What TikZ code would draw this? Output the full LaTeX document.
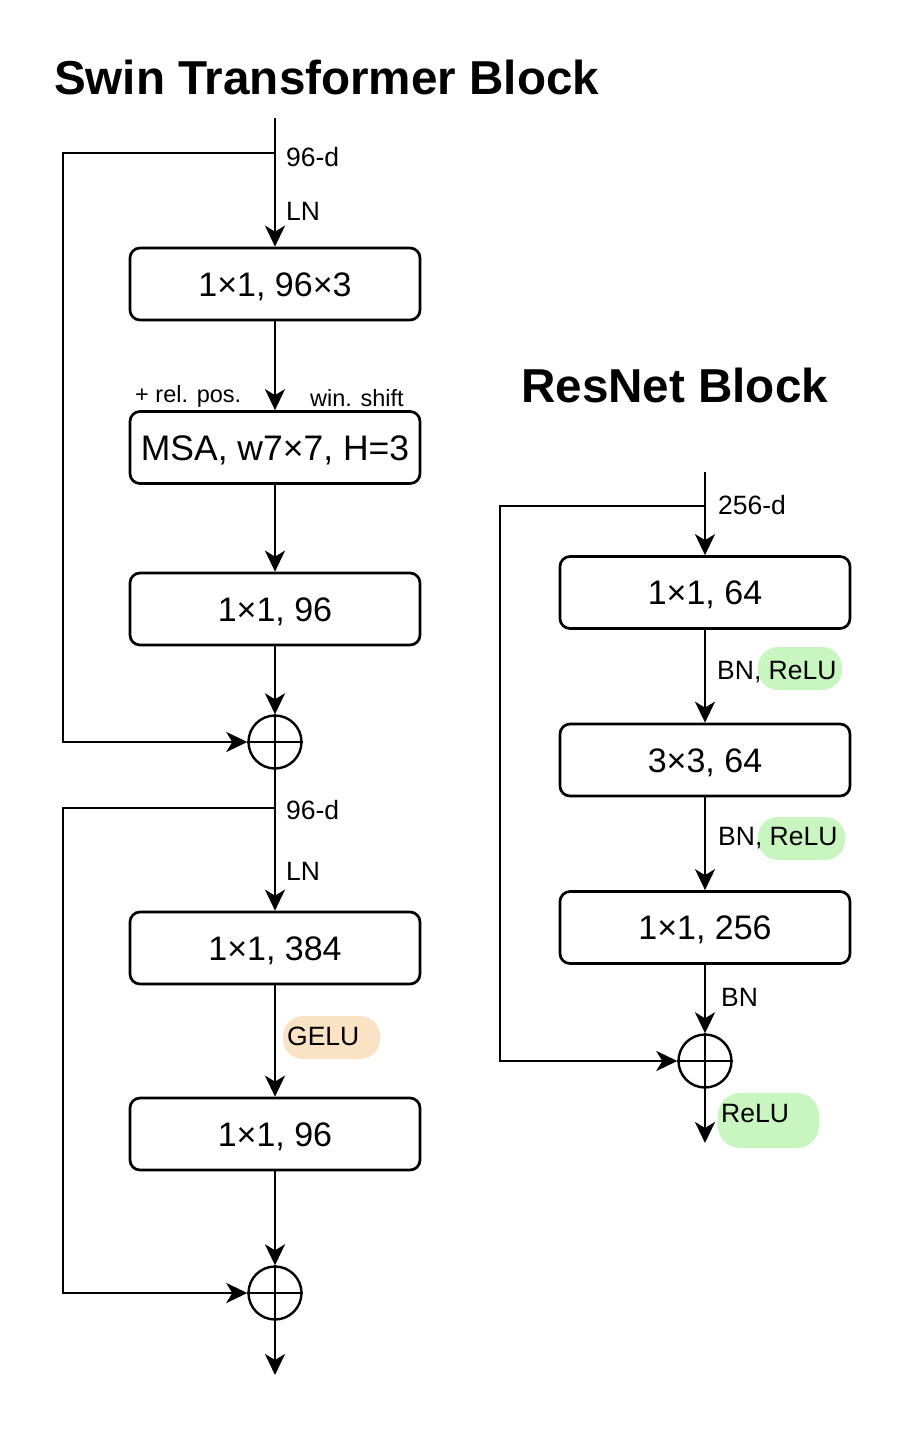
\documentclass[tikz,border=0pt]{standalone}
\usepackage{fontspec}
\setmainfont{Liberation Sans}
\usetikzlibrary{arrows.meta}
\definecolor{hlgreen}{HTML}{C8F5C0}
\definecolor{hlorange}{HTML}{FAE2C4}
\tikzset{
  blk/.style={draw, line width=2.7pt, rounded corners=10pt, minimum width=290pt, minimum height=72pt, inner sep=0pt, text height=24pt, text depth=0pt, font=\fontsize{34}{40}\selectfont},
  sumnode/.style={draw, circle, line width=2.4pt, minimum size=53pt, inner sep=0pt},
  arr/.style={line width=2.7pt, -{Stealth[length=21pt, width=20pt, inset=6pt]}},
  ln/.style={line width=2.4pt},
  lbl/.style={anchor=west, inner sep=0pt, font=\fontsize{26.5}{31}\selectfont},
  slbl/.style={anchor=west, inner sep=0pt, font=\fontsize{23.5}{28}\selectfont},
  ttl/.style={anchor=west, inner sep=0pt, font=\bfseries\fontsize{47.6}{56}\selectfont},
  hl/.style={rounded corners=20pt}
}
\begin{document}
\begin{tikzpicture}[x=1pt, y=-1pt]
\useasboundingbox (0,0) rectangle (903,1440);
\fill[white] (0,0) rectangle (903,1440);

% titles
\node[ttl] (t1) at (54,77) {Swin Transformer Block};
\node[ttl] (t2) at (521,385) {ResNet Block};

% highlights
\fill[hlorange, hl] (283,1016) rectangle (380,1059);
\fill[hlgreen, hl] (758,647) rectangle (842,690);
\fill[hlgreen, hl] (758,817) rectangle (845,860);
\fill[hlgreen, rounded corners=22pt] (718,1093) rectangle (819,1148);

% ---------------- Swin block ----------------
\coordinate (in1) at (275,118);
\coordinate (br1) at (275,153);
\node[blk] (s1) at (275,284) {1×1, 96×3};
\node[blk, font=\fontsize{35.5}{40}\selectfont, text height=25pt] (s2) at (275,447.5) {MSA, w7×7, H=3};
\node[blk] (s3) at (275,609) {1×1, 96};
\node[sumnode] (c1) at (275,742) {};
\coordinate (br2) at (275,808);
\node[blk] (s4) at (275,948) {1×1, 384};
\node[blk] (s5) at (275,1134) {1×1, 96};
\node[sumnode] (c2) at (275,1293) {};
\coordinate (out1) at (275,1375);

\draw[ln] (c1.north) -- (c1.south) (c1.west) -- (c1.east);
\draw[ln] (c2.north) -- (c2.south) (c2.west) -- (c2.east);

\draw[arr] (in1) -- (s1.north);
\draw[arr] (s1.south) -- (s2.north);
\draw[arr] (s2.south) -- (s3.north);
\draw[arr] (s3.south) -- (c1.north);
\draw[arr] (br1) -- (63,153) |- (c1.west);
\draw[arr] (c1.south) -- (s4.north);
\draw[arr] (s4.south) -- (s5.north);
\draw[arr] (s5.south) -- (c2.north);
\draw[arr] (br2) -- (63,808) |- (c2.west);
\draw[arr] (c2.south) -- (out1);

\node[lbl] (l1) at (286,157) {96-d};
\node[lbl] (l2) at (286,211) {LN};
\node[slbl] (l3) at (135,396) {+ rel. pos.};
\node[slbl] (l4) at (310,398) {win. shift};
\node[lbl] (l5) at (286,810) {96-d};
\node[lbl] (l6) at (286,871) {LN};
\node[lbl] (l7) at (287,1036) {GELU};

% ---------------- ResNet block ----------------
\coordinate (in2) at (705,472);
\coordinate (br3) at (705,506);
\node[blk] (r1) at (705,592.5) {1×1, 64};
\node[blk] (r2) at (705,760) {3×3, 64};
\node[blk] (r3) at (705,927.5) {1×1, 256};
\node[sumnode] (rc) at (705,1061) {};
\coordinate (out2) at (705,1143);

\draw[ln] (rc.north) -- (rc.south) (rc.west) -- (rc.east);

\draw[arr] (in2) -- (r1.north);
\draw[arr] (r1.south) -- (r2.north);
\draw[arr] (r2.south) -- (r3.north);
\draw[arr] (r3.south) -- (rc.north);
\draw[arr] (br3) -- (500,506) |- (rc.west);
\draw[arr] (rc.south) -- (out2);

\node[lbl] (m1) at (718,505) {256-d};
\node[lbl] (m2) at (717,672) {BN, ReLU};
\node[lbl] (m3) at (718,838) {BN, ReLU};
\node[lbl] (m4) at (721,997) {BN};
\node[lbl] (m5) at (721,1113) {ReLU};
\end{tikzpicture}
\end{document}
